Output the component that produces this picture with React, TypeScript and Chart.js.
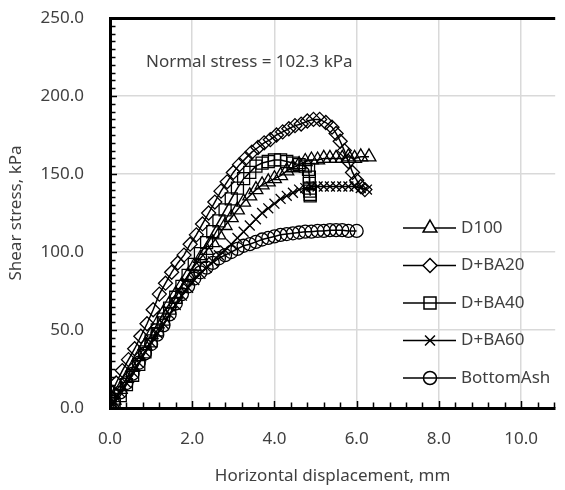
import React, { useEffect, useRef } from "react";
import { Chart, registerables } from "chart.js";
import { drawPoint } from "chart.js/helpers";

Chart.register(...registerables);

// ---- Data ----
const seriesNames = ["D100", "D+BA20", "D+BA40", "D+BA60", "BottomAsh"];
const seriesStyles = ["triangle", "rectRot", "rect", "crossRot", "circle"];
const seriesRadius = [8, 7, 8.5, 7, 6.5];
const legendFilled = [true, true, false, false, false];

const d100X = [0, 0.1, 0.25, 0.4, 0.55, 0.7, 0.85, 1.0, 1.15, 1.3, 1.45, 1.6, 1.75, 1.9, 2.05, 2.2, 2.35, 2.5, 2.65, 2.8, 2.95, 3.1, 3.25, 3.4, 3.55, 3.7, 3.85, 4.0, 4.15, 4.3, 4.45, 4.6, 4.75, 4.9, 5.05, 5.2, 5.35, 5.5, 5.65, 5.8, 5.95, 6.1, 6.3];
const d100Y = [0, 5, 12, 19, 26, 33, 40, 47, 54, 61, 67, 73, 79, 85, 91, 96, 101, 106, 111, 117, 122, 127, 132, 136, 140, 143, 145, 147, 149, 152, 154, 156, 158, 159, 159, 160, 160, 160, 160, 161, 160, 161, 161];

const ba20X = [0, 0.05, 0.15, 0.3, 0.45, 0.6, 0.75, 0.9, 1.05, 1.2, 1.35, 1.5, 1.65, 1.8, 1.95, 2.1, 2.25, 2.4, 2.55, 2.7, 2.85, 3.0, 3.15, 3.3, 3.45, 3.6, 3.75, 3.9, 4.05, 4.2, 4.35, 4.5, 4.65, 4.8, 4.95, 5.1, 5.25, 5.4, 5.5, 5.6, 5.7, 5.8, 5.9, 6.0, 6.1, 6.2];
const ba20Y = [0, 10, 16, 24, 31, 38, 46, 54, 63, 73, 80, 87, 93, 98, 105, 111, 118, 125, 132, 139, 145, 151, 156, 160, 164, 167, 170, 172, 175, 177, 179, 181, 182, 184, 185, 185, 183, 180, 176, 171, 165, 158, 151, 146, 142, 140];

const ba40X = [0, 0.1, 0.25, 0.4, 0.55, 0.7, 0.85, 1.0, 1.15, 1.3, 1.45, 1.6, 1.75, 1.9, 2.05, 2.2, 2.35, 2.5, 2.65, 2.8, 2.95, 3.1, 3.25, 3.4, 3.55, 3.7, 3.85, 4.0, 4.15, 4.3, 4.45, 4.6, 4.75, 4.83, 4.85, 4.85, 4.86, 4.86, 4.87, 4.87];
const ba40Y = [0, 3, 8, 15, 21, 28, 36, 43, 50, 57, 64, 71, 78, 85, 92, 99, 106, 113, 120, 127, 134, 141, 147, 151, 155, 157, 158, 159, 159, 158, 157, 156, 155, 153, 148, 144, 141, 139, 137, 136];

const ba60X = [0, 0.1, 0.25, 0.4, 0.55, 0.7, 0.85, 1.0, 1.15, 1.3, 1.45, 1.6, 1.75, 1.9, 2.05, 2.2, 2.35, 2.5, 2.65, 2.8, 2.95, 3.1, 3.25, 3.4, 3.55, 3.7, 3.85, 4.0, 4.15, 4.3, 4.45, 4.6, 4.75, 4.9, 5.05, 5.2, 5.35, 5.5, 5.65, 5.8, 5.95, 6.1, 6.25];
const ba60Y = [0, 4, 10, 16, 23, 29, 36, 42, 48, 54, 60, 66, 72, 77, 82, 86, 90, 94, 98, 101, 105, 109, 113, 117, 121, 125, 128, 131, 134, 136, 138, 140, 141, 142, 142, 142, 142, 142, 142, 142, 142, 141, 140];

const ashX = [0, 0.1, 0.25, 0.4, 0.55, 0.7, 0.85, 1.0, 1.15, 1.3, 1.45, 1.6, 1.75, 1.9, 2.05, 2.2, 2.35, 2.5, 2.65, 2.8, 2.95, 3.1, 3.25, 3.4, 3.55, 3.7, 3.85, 4.0, 4.15, 4.3, 4.45, 4.6, 4.75, 4.9, 5.05, 5.2, 5.35, 5.5, 5.65, 5.8, 6.0];
const ashY = [0, 4, 10, 16, 22, 29, 35, 41, 47, 53, 60, 67, 73, 78, 83, 87, 90, 93, 96, 98, 100, 102, 104, 105, 106.5, 108, 109, 110, 111, 111.5, 112, 112.5, 113, 113, 113.5, 113.5, 114, 114, 114, 113.5, 113.5];

const seriesX = [d100X, ba20X, ba40X, ba60X, ashX];
const seriesY = [d100Y, ba20Y, ba40Y, ba60Y, ashY];

const xMin = 0;
const xMax = 10.83;
const xStep = 2;
const xMinorStep = 0.4;
const yMin = 0;
const yMax = 250;
const yStep = 50;
const yMinorStep = 5;

const annotationText = "Normal stress = 102.3 kPa";
const xTitle = "Horizontal displacement, mm";
const yTitle = "Shear stress, kPa";

const FONT = "'Noto Sans', sans-serif";
const FONT_SIZE = 17;
const TEXT_COLOR = "#404040";
const GRID_COLOR = "#d9d9d9";

const minorTicksPlugin = {
  id: "minorTicks",
  beforeDatasetsDraw(chart: any) {
    const { ctx, chartArea, scales } = chart;
    const xs = scales.x;
    const ys = scales.y;
    ctx.save();
    ctx.strokeStyle = "#000";
    ctx.lineWidth = 1.5;
    ctx.beginPath();
    const nx = Math.round((xMax - xMin) / xMinorStep);
    for (let i = 1; i <= nx; i++) {
      const v = xMin + i * xMinorStep;
      const px = Math.round(xs.getPixelForValue(v)) + 0.5;
      const major = Math.abs(v / xStep - Math.round(v / xStep)) < 1e-6;
      ctx.moveTo(px, chartArea.bottom);
      ctx.lineTo(px, chartArea.bottom - (major ? 7 : 5.5));
    }
    const ny = Math.round((yMax - yMin) / yMinorStep);
    for (let i = 1; i < ny; i++) {
      const v = yMin + i * yMinorStep;
      const py = Math.round(ys.getPixelForValue(v)) + 0.5;
      const major = Math.abs(v / yStep - Math.round(v / yStep)) < 1e-6;
      ctx.moveTo(chartArea.left, py);
      ctx.lineTo(chartArea.left + (major ? 7 : 5.5), py);
    }
    ctx.stroke();
    ctx.restore();
  },
};

const legendPlugin = {
  id: "customLegend",
  afterDraw(chart: any) {
    const { ctx } = chart;
    ctx.save();
    // annotation text
    ctx.font = `${FONT_SIZE}px ${FONT}`;
    ctx.fillStyle = TEXT_COLOR;
    ctx.textBaseline = "middle";
    ctx.textAlign = "left";
    ctx.fillText(annotationText, 146, 62);

    const top = 228;
    const gap = 37.5;
    for (let i = 0; i < seriesNames.length; i++) {
      const cy = top + i * gap;
      ctx.strokeStyle = "#000";
      ctx.lineWidth = 1.5;
      ctx.beginPath();
      ctx.moveTo(403, cy);
      ctx.lineTo(456, cy);
      ctx.stroke();
      ctx.fillStyle = legendFilled[i] ? "#fff" : "rgba(0,0,0,0)";
      ctx.strokeStyle = "#000";
      ctx.lineWidth = 1.5;
      drawPoint(
        ctx,
        { pointStyle: seriesStyles[i], radius: seriesRadius[i], rotation: 0, borderWidth: 1.5 } as any,
        430,
        cy
      );
      ctx.fillStyle = TEXT_COLOR;
      ctx.font = `${FONT_SIZE}px ${FONT}`;
      ctx.textBaseline = "middle";
      ctx.fillText(seriesNames[i], 461, cy);
    }
    ctx.restore();
  },
};

export default function App() {
  const ref = useRef<HTMLCanvasElement | null>(null);

  useEffect(() => {
    document.body.style.margin = "0";
    const canvas = ref.current;
    if (!canvas) return;
    const datasets = seriesNames.map((name, i) => ({
      label: name,
      data: seriesX[i].map((x, j) => ({ x, y: seriesY[i][j] })),
      borderColor: "#000",
      borderWidth: 1.5,
      backgroundColor: "rgba(0,0,0,0)",
      pointStyle: seriesStyles[i],
      pointRadius: seriesRadius[i],
      pointBorderWidth: 1.3,
      pointBorderColor: "#000",
      pointBackgroundColor: "rgba(0,0,0,0)",
      showLine: true,
      tension: 0,
      fill: false,
    }));

    const chart = new Chart(canvas, {
      type: "scatter",
      data: { datasets },
      plugins: [minorTicksPlugin, legendPlugin],
      options: {
        responsive: false,
        animation: false,
        devicePixelRatio: 1,
        layout: { padding: { top: 18, left: 0, right: 0, bottom: 0 } },
        plugins: {
          legend: { display: false },
          tooltip: { enabled: false },
        },
        scales: {
          x: {
            type: "linear",
            min: xMin,
            max: xMax,
            afterFit: (s: any) => {
              s.height = 82;
              s.paddingLeft = 0;
              s.paddingRight = 0;
            },
            ticks: {
              stepSize: xStep,
              includeBounds: false,
              maxRotation: 0,
              autoSkip: false,
              padding: 21,
              color: TEXT_COLOR,
              font: { family: FONT, size: FONT_SIZE },
              callback: (v: any) => Number(v).toFixed(1),
            },
            grid: {
              drawTicks: false,
              color: (c: any) => (c.tick && c.tick.value === 0 ? "rgba(0,0,0,0)" : GRID_COLOR),
              lineWidth: 1.5,
            },
            border: { display: true, color: "#000", width: 3 },
            title: {
              display: true,
              text: xTitle,
              color: TEXT_COLOR,
              font: { family: FONT, size: FONT_SIZE },
              padding: { top: 0, bottom: 4 },
            },
          },
          y: {
            type: "linear",
            min: yMin,
            max: yMax,
            afterFit: (s: any) => {
              s.width = 110;
              s.paddingTop = 0;
              s.paddingBottom = 0;
            },
            ticks: {
              stepSize: yStep,
              padding: 26,
              color: TEXT_COLOR,
              font: { family: FONT, size: FONT_SIZE },
              callback: (v: any) => Number(v).toFixed(1),
            },
            grid: {
              drawTicks: false,
              color: (c: any) =>
                c.tick && c.tick.value === yMax
                  ? "#000"
                  : c.tick && c.tick.value === 0
                  ? "rgba(0,0,0,0)"
                  : GRID_COLOR,
              lineWidth: (c: any) => (c.tick && c.tick.value === yMax ? 3 : 1.5),
            },
            border: { display: true, color: "#000", width: 3 },
            title: {
              display: true,
              text: yTitle,
              color: TEXT_COLOR,
              font: { family: FONT, size: FONT_SIZE },
              padding: { top: 6, bottom: 0 },
            },
          },
        },
      },
    } as any);

    return () => {
      chart.destroy();
    };
  }, []);

  return (
    <div style={{ width: 565, height: 490, overflow: "hidden" }}>
      <canvas ref={ref} width={565} height={490} style={{ display: "block" }} />
    </div>
  );
}
